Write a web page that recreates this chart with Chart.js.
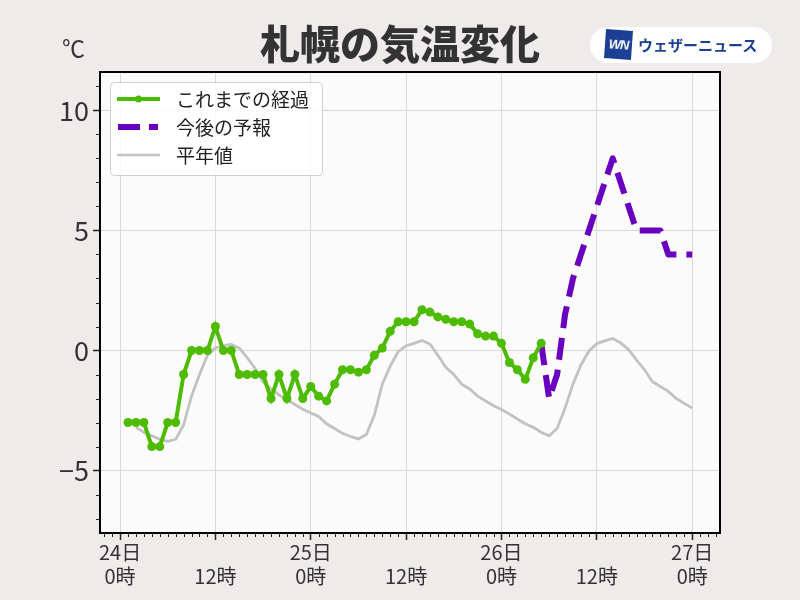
<!DOCTYPE html>
<html>
<head>
<meta charset="utf-8">
<script src="https://cdn.jsdelivr.net/npm/chart.js@4.4.0/dist/chart.umd.min.js"></script>
<style>
body { margin: 0; background: #eeebea; }
#wrap { position: relative; width: 800px; height: 600px; }
canvas { position: absolute; left: 0; top: 0; }
#title { position: absolute; left: 0; top: 22px; width: 800px; text-align: center; font: 900 40px/40px 'Noto Sans CJK JP'; color: #333; }
#unit { position: absolute; left: 62px; top: 36px; font: 23px/23px 'Noto Sans CJK JP'; color: #333; }
#logo { position: absolute; left: 590px; top: 27px; width: 182px; height: 36px; background: #fff; border-radius: 18px; }
#wn { position: absolute; left: 15px; top: 3px; width: 27px; height: 29px; background: #1a3f94; color: #fff; font: italic bold 13px/29px 'Liberation Sans'; text-align: center; transform: rotate(4deg); letter-spacing: -1px; }
#logo span { position: absolute; left: 48px; top: 9px; font: bold 15px/18px 'Noto Sans CJK JP'; color: #1a3f94; }
</style>
</head>
<body>
<div id="wrap">
  <canvas id="myChart" width="800" height="600"></canvas>
  <div id="title">札幌の気温変化</div>
  <div id="unit">℃</div>
  <div id="logo"><div id="wn">WN</div><span>ウェザーニュース</span></div>
</div>
<script>
// hours counted from 24日 0時
const obsStart = 1;
const obsTemps = [-3, -3, -3, -4, -4, -3, -3, -1, 0, 0,
    0, 1, 0, 0, -1, -1, -1, -1, -2, -1,
    -2, -1, -2, -1.5, -1.9, -2.1, -1.4, -0.8, -0.8, -0.9,
    -0.8, -0.2, 0.1, 0.8, 1.2, 1.2, 1.2, 1.7, 1.6, 1.4,
    1.3, 1.2, 1.2, 1.1, 0.7, 0.6, 0.6, 0.3, -0.5, -0.8,
    -1.2, -0.3, 0.3];
const fcstStart = 53;
const fcstTemps = [0.3, -2, -1, 1.5, 3, 4, 5, 6, 7, 8, 7, 6, 5, 5, 5, 5, 4, 4, 4, 4];
const normStart = 2;
const normTemps = [-3.2, -3.4, -3.55, -3.7, -3.78, -3.7, -3.1, -1.9, -1.0, -0.2,
    0.1, 0.2, 0.25, 0.1, -0.3, -0.75, -1.3, -1.6, -1.85, -2.05,
    -2.25, -2.45, -2.6, -2.75, -3.05, -3.25, -3.45, -3.58, -3.68, -3.5,
    -2.7, -1.4, -0.65, -0.05, 0.2, 0.3, 0.42, 0.27, -0.2, -0.7,
    -1.0, -1.4, -1.6, -1.9, -2.1, -2.3, -2.46, -2.65, -2.85, -3.05,
    -3.2, -3.4, -3.55, -3.25, -2.4, -1.4, -0.6, -0.03, 0.29, 0.4,
    0.5, 0.32, 0.04, -0.4, -0.8, -1.3, -1.5, -1.7, -2.0, -2.2,
    -2.4];
const dayLabels = ['24日', '25日', '26日', '27日'];
const hourLabels = ['0時', '12時'];
const xTicks = [0, 12, 24, 36, 48, 60, 72];
const yTicks = [-5, 0, 5, 10];
const legendLabels = ['これまでの経過', '今後の予報', '平年値'];

const green = '#4dbb00';
const purple = '#6a00bf';
const gray = '#c2c2c2';

function toPoints(start, temps) {
    return temps.map((t, i) => ({ x: start + i, y: t }));
}

const chartBg = {
    id: 'chartBg',
    beforeDraw(chart) {
        const a = chart.chartArea, ctx = chart.ctx;
        ctx.save();
        ctx.fillStyle = '#fcfbfc';
        ctx.fillRect(a.left, a.top, a.right - a.left, a.bottom - a.top);
        ctx.restore();
    },
    afterDraw(chart) {
        const a = chart.chartArea, ctx = chart.ctx;
        const xs = chart.scales.x, ys = chart.scales.y;
        ctx.save();
        // minor ticks
        ctx.strokeStyle = '#222';
        ctx.lineWidth = 1;
        ctx.beginPath();
        for (let h = Math.ceil(xs.min); h <= xs.max; h++) {
            if (h % 12 === 0) continue;
            const px = Math.round(xs.getPixelForValue(h)) + 0.5;
            ctx.moveTo(px, a.bottom);
            ctx.lineTo(px, a.bottom + 4);
        }
        for (let v = Math.ceil(ys.min); v <= ys.max; v++) {
            if (v % 5 === 0) continue;
            const py = Math.round(ys.getPixelForValue(v)) + 0.5;
            ctx.moveTo(a.left, py);
            ctx.lineTo(a.left - 4, py);
        }
        ctx.stroke();
        // frame
        ctx.strokeStyle = '#000';
        ctx.lineWidth = 2;
        ctx.strokeRect(a.left, a.top, a.right - a.left, a.bottom - a.top);

        // legend
        const lx = 110, ly = 82, lw = 212, lh = 93;
        ctx.fillStyle = 'rgba(255,255,255,0.85)';
        ctx.strokeStyle = '#d0d0d0';
        ctx.lineWidth = 1;
        ctx.beginPath();
        ctx.roundRect(lx + 0.5, ly + 0.5, lw, lh, 4);
        ctx.fill();
        ctx.stroke();
        const rows = [99, 127, 155];
        ctx.strokeStyle = green; ctx.lineWidth = 4;
        ctx.beginPath(); ctx.moveTo(117, rows[0]); ctx.lineTo(160, rows[0]); ctx.stroke();
        ctx.fillStyle = green;
        ctx.beginPath(); ctx.arc(138.5, rows[0], 3.5, 0, Math.PI * 2); ctx.fill();
        ctx.strokeStyle = purple; ctx.lineWidth = 6;
        ctx.setLineDash([22, 9]);
        ctx.beginPath(); ctx.moveTo(118, rows[1]); ctx.lineTo(158, rows[1]); ctx.stroke();
        ctx.setLineDash([]);
        ctx.strokeStyle = gray; ctx.lineWidth = 2.5;
        ctx.beginPath(); ctx.moveTo(117, rows[2]); ctx.lineTo(160, rows[2]); ctx.stroke();

        ctx.fillStyle = '#222';
        ctx.font = "19px 'Noto Sans CJK JP'";
        ctx.textBaseline = 'middle';
        legendLabels.forEach((t, i) => ctx.fillText(t, 176, rows[i] + 1));
        ctx.restore();
    }
};

const ctx = document.getElementById('myChart').getContext('2d');
new Chart(ctx, {
    type: 'line',
    data: {
        datasets: [{
            label: legendLabels[0],
            data: toPoints(obsStart, obsTemps),
            borderColor: green,
            backgroundColor: green,
            borderWidth: 4,
            pointRadius: 4.5,
            pointBorderWidth: 0,
            pointBackgroundColor: green
        }, {
            label: legendLabels[1],
            data: toPoints(fcstStart, fcstTemps),
            borderColor: purple,
            borderWidth: 6,
            borderDash: [22, 10],
            borderCapStyle: 'butt',
            borderJoinStyle: 'round',
            pointRadius: 0
        }, {
            label: legendLabels[2],
            data: toPoints(normStart, normTemps),
            borderColor: gray,
            borderWidth: 2.8,
            pointRadius: 0
        }]
    },
    options: {
        responsive: false,
        animation: false,
        layout: { padding: { top: 72, right: 80, left: 0, bottom: 0 } },
        plugins: { legend: { display: false }, tooltip: { enabled: false } },
        scales: {
            x: {
                type: 'linear',
                min: -2.52,
                max: 75.5,
                afterFit(scale) { scale.height = 67; },
                afterBuildTicks(scale) { scale.ticks = xTicks.map(v => ({ value: v })); },
                border: { display: false },
                grid: { color: '#d8d8d8', lineWidth: 1, tickLength: 7, tickColor: '#222', tickWidth: 1.5 },
                ticks: {
                    color: '#333',
                    font: { family: 'Noto Sans CJK JP', size: 20 },
                    padding: 0,
                    maxRotation: 0,
                    autoSkip: false,
                    callback(v) {
                        if (v % 24 === 0) return [dayLabels[v / 24], hourLabels[0]];
                        return ['', hourLabels[1]];
                    }
                }
            },
            y: {
                min: -7.6,
                max: 11.6,
                afterFit(scale) { scale.width = 100; },
                afterBuildTicks(scale) { scale.ticks = yTicks.map(v => ({ value: v })); },
                border: { display: false },
                grid: { color: '#d8d8d8', lineWidth: 1, tickLength: 7, tickColor: '#222', tickWidth: 1.5 },
                ticks: {
                    color: '#333',
                    font: { family: 'Noto Sans CJK JP', size: 27 },
                    padding: 4,
                    callback(v) { return v < 0 ? '\u2212' + Math.abs(v) : String(v); }
                }
            }
        }
    },
    plugins: [chartBg]
});
</script>
</body>
</html>
